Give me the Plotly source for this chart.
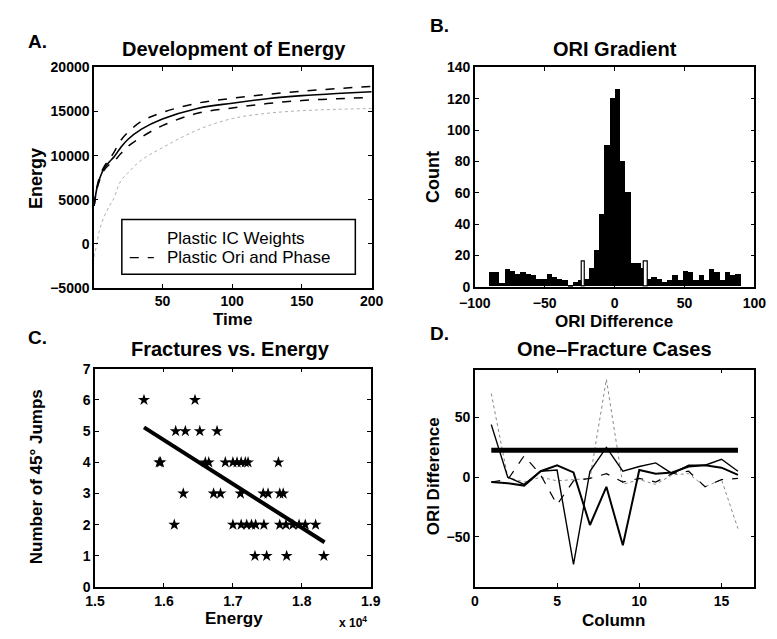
import numpy as np
import plotly.graph_objects as go

W, H = 777, 639
F = "Liberation Sans"

# ---------------- Panel A data ----------------
time_pts = [1, 3, 5, 8, 12, 15, 20, 25, 35, 50, 75, 100, 125, 150, 175, 200]
energy_mean = [4300, 6300, 7400, 8500, 9300, 9800, 10900, 11800, 13000, 14150, 15350, 15950, 16450, 16800, 17050, 17250]
energy_upper = [4300, 6400, 7600, 8700, 9600, 10300, 11700, 12600, 13900, 14900, 15950, 16500, 16950, 17300, 17600, 17850]
energy_lower = [4300, 6200, 7200, 8300, 9000, 9300, 10200, 11000, 12100, 13400, 14800, 15400, 15900, 16250, 16450, 16600]
energy_ic = [-1500, 0, 1600, 3000, 4300, 5100, 7100, 8000, 9500, 10900, 12900, 14200, 14800, 15100, 15250, 15350]
energy_ticks = [-5000, 0, 5000, 10000, 15000, 20000]
energy_tick_text = ["\u22125000", "0", "5000", "10000", "15000", "20000"]

# ---------------- Panel B data ----------------
bin_start = -90
bin_width = 3.75
counts = [9, 9, 2, 11, 10, 8, 9, 8, 7, 5, 5, 8, 6, 5, 4, 1, 3, 4, 5, 12,
          23, 46, 90, 120, 126, 80, 60, 15, 15, 12, 5, 6, 5, 3, 4, 7, 4, 10,
          9, 4, 7, 4, 11, 9, 4, 9, 7, 8]
marker_x = [-22.5, 22.5]
marker_h = [16, 16]

# ---------------- Panel C data (energy in units of 1e4) ----------------
energy_e4 = [1.571, 1.645,
             1.617, 1.631, 1.652, 1.677,
             1.593, 1.595, 1.660, 1.665, 1.689, 1.700, 1.706, 1.712, 1.718, 1.722, 1.766,
             1.628, 1.672, 1.682, 1.711, 1.744, 1.751, 1.768, 1.773,
             1.615, 1.700, 1.712, 1.720, 1.727, 1.733, 1.745, 1.768, 1.777, 1.787, 1.796, 1.805, 1.820,
             1.732, 1.749, 1.778, 1.832]
jumps = [6, 6,
         5, 5, 5, 5,
         4, 4, 4, 4, 4, 4, 4, 4, 4, 4, 4,
         3, 3, 3, 3, 3, 3, 3, 3,
         2, 2, 2, 2, 2, 2, 2, 2, 2, 2, 2, 2, 2,
         1, 1, 1, 1]
fit_x = [1.571, 1.833]
fit_y = [5.12, 1.44]

# ---------------- Panel D data ----------------
column = list(range(1, 17))
case_a = [44, 0, -6, 5, 6, -73, 5, 25, 5, 9, 12, 3, 10, 10, 15, 5]
case_b = [-4, -5, -7, 5, 10, 4, -40, -8, -57, 6, 3, 4, 9, 10, 8, 2]
case_c = [-4, -2, 18, 2, -23, -3, -1, 3, -4, -1, -4, 3, 5, -8, -2, -1]
case_d = [70, 0, -4, 0, -3, -2, -1, 82, -6, -2, -6, 2, 3, -8, -2, -43]
threshold_x = [1, 16]
threshold_y = [22.5, 22.5]

fig = go.Figure()

# Panel A
fig.add_trace(go.Scatter(x=time_pts, y=energy_ic, mode="lines", line=dict(color="#b0b0b0", width=1, dash="dot", shape="spline"), xaxis="x", yaxis="y"))
fig.add_trace(go.Scatter(x=time_pts, y=energy_upper, mode="lines", line=dict(color="black", width=1.5, dash="dash", shape="spline"), xaxis="x", yaxis="y"))
fig.add_trace(go.Scatter(x=time_pts, y=energy_lower, mode="lines", line=dict(color="black", width=1.5, dash="dash", shape="spline"), xaxis="x", yaxis="y"))
fig.add_trace(go.Scatter(x=time_pts, y=energy_mean, mode="lines", line=dict(color="black", width=1.6, shape="spline"), xaxis="x", yaxis="y"))

# Panel B
centers = [bin_start + bin_width * (k + 0.5) for k in range(len(counts))]
fig.add_trace(go.Bar(x=centers, y=counts, width=bin_width, marker=dict(color="black", line=dict(width=0)), xaxis="x2", yaxis="y2"))
fig.add_trace(go.Bar(x=marker_x, y=marker_h, width=2.6, marker=dict(color="white", line=dict(color="black", width=1.2)), xaxis="x2", yaxis="y2"))

# Panel C
fig.add_trace(go.Scatter(x=energy_e4, y=jumps, mode="markers", marker=dict(symbol="star", size=9, color="black"), xaxis="x3", yaxis="y3"))
fig.add_trace(go.Scatter(x=fit_x, y=fit_y, mode="lines", line=dict(color="black", width=4), xaxis="x3", yaxis="y3"))

# Panel D
fig.add_trace(go.Scatter(x=column, y=case_d, mode="lines", line=dict(color="#888888", width=1, dash="dot"), xaxis="x4", yaxis="y4"))
fig.add_trace(go.Scatter(x=column, y=case_c, mode="lines", line=dict(color="black", width=1.2, dash="dash"), xaxis="x4", yaxis="y4"))
fig.add_trace(go.Scatter(x=column, y=case_a, mode="lines", line=dict(color="black", width=1.4), xaxis="x4", yaxis="y4"))
fig.add_trace(go.Scatter(x=column, y=case_b, mode="lines", line=dict(color="black", width=2), xaxis="x4", yaxis="y4"))
fig.add_trace(go.Scatter(x=threshold_x, y=threshold_y, mode="lines", line=dict(color="black", width=5), xaxis="x4", yaxis="y4"))


def dom_x(a, b):
    return [a / W, b / W]


def dom_y(top, bottom):
    return [1 - bottom / H, 1 - top / H]


def axis(domain, rng, tickvals, ticktext=None, anchor=None, standoff=None):
    d = dict(domain=domain, range=rng, tickvals=tickvals, showline=True, linecolor="black", linewidth=1.5,
             mirror="allticks", ticks="inside", ticklen=4, tickwidth=1, tickcolor="black",
             showgrid=False, zeroline=False, anchor=anchor,
             tickfont=dict(family=F, size=14, color="black", weight="bold"))
    if ticktext is not None:
        d["ticktext"] = ticktext
    if standoff is not None:
        d["ticklabelstandoff"] = standoff
    return d


layout = dict(
    width=W, height=H, margin=dict(l=0, r=0, t=0, b=0),
    paper_bgcolor="white", plot_bgcolor="white", showlegend=False, bargap=0, barmode="overlay",
    xaxis=axis(dom_x(81, 369), [1, 200], [50, 100, 150, 200], anchor="y"),
    yaxis=axis(dom_y(61, 287), [-5000, 20000], energy_ticks, energy_tick_text, anchor="x"),
    xaxis2=axis(dom_x(476, 766), [-100, 100], [-100, -50, 0, 50, 100], anchor="y2", standoff=3),
    yaxis2=axis(dom_y(61, 286), [0, 140], list(range(0, 141, 20)), anchor="x2"),
    xaxis3=axis(dom_x(82, 368), [1.5, 1.9], [1.5, 1.6, 1.7, 1.8, 1.9], ["1.5", "1.6", "1.7", "1.8", "1.9"], anchor="y3"),
    yaxis3=axis(dom_y(370, 594), [0, 7], list(range(0, 8)), anchor="x3"),
    xaxis4=axis(dom_x(476, 766), [0, 17], [0, 5, 10, 15], anchor="y4"),
    yaxis4=axis(dom_y(371, 594), [-92, 90], [-50, 0, 50], anchor="x4"),
)
fig.update_layout(**layout)


def ann(text, x, y, size, bold=True, angle=0, xanchor="center"):
    return dict(text=text, x=x / W, y=1 - y / H, xref="paper", yref="paper", showarrow=False,
                font=dict(family=F, size=size, color="black", weight="bold" if bold else "normal"),
                textangle=angle, xanchor=xanchor, yanchor="middle")


annotations = [
    ann("A.", 10, 34, 19, xanchor="left"),
    ann("B.", 427, 18, 19, xanchor="left"),
    ann("C.", 10, 338, 19, xanchor="left"),
    ann("D.", 427, 334, 19, xanchor="left"),
    ann("Development of Energy", 226, 42, 20),
    ann("ORI Gradient", 621, 42, 20),
    ann("Fractures vs. Energy", 222, 350, 20),
    ann("One\u2013Fracture Cases", 621, 350, 20),
    ann("Time", 225, 320, 17),
    ann("ORI Difference", 620, 322, 17),
    ann("Energy", 226, 626, 17),
    ann("Column", 620, 628, 17),
    ann("x 10<sup>4</sup>", 333, 630, 12, xanchor="left"),
    ann("Energy", 20, 175, 18, angle=-90),
    ann("Count", 432, 173, 18, angle=-90),
    ann("Number of 45\u00b0 Jumps", 22, 481, 17, angle=-90),
    ann("ORI Difference", 434, 480, 17, angle=-90),
    ann("Plastic IC Weights", 155, 236, 17, bold=False, xanchor="left"),
    ann("Plastic Ori and Phase", 155, 256, 17, bold=False, xanchor="left"),
]
fig.update_layout(annotations=annotations)

fig.add_shape(type="rect", xref="x domain", yref="y domain", x0=0.10, x1=0.941, y0=0.062, y1=0.31,
              line=dict(color="black", width=1.5), fillcolor="white", layer="above")
fig.add_shape(type="line", xref="paper", yref="paper", x0=118 / W, x1=143 / W, y0=1 - 256 / H, y1=1 - 256 / H,
              line=dict(color="black", width=1.2, dash="dash"), layer="above")

fig.write_html("out.html")
